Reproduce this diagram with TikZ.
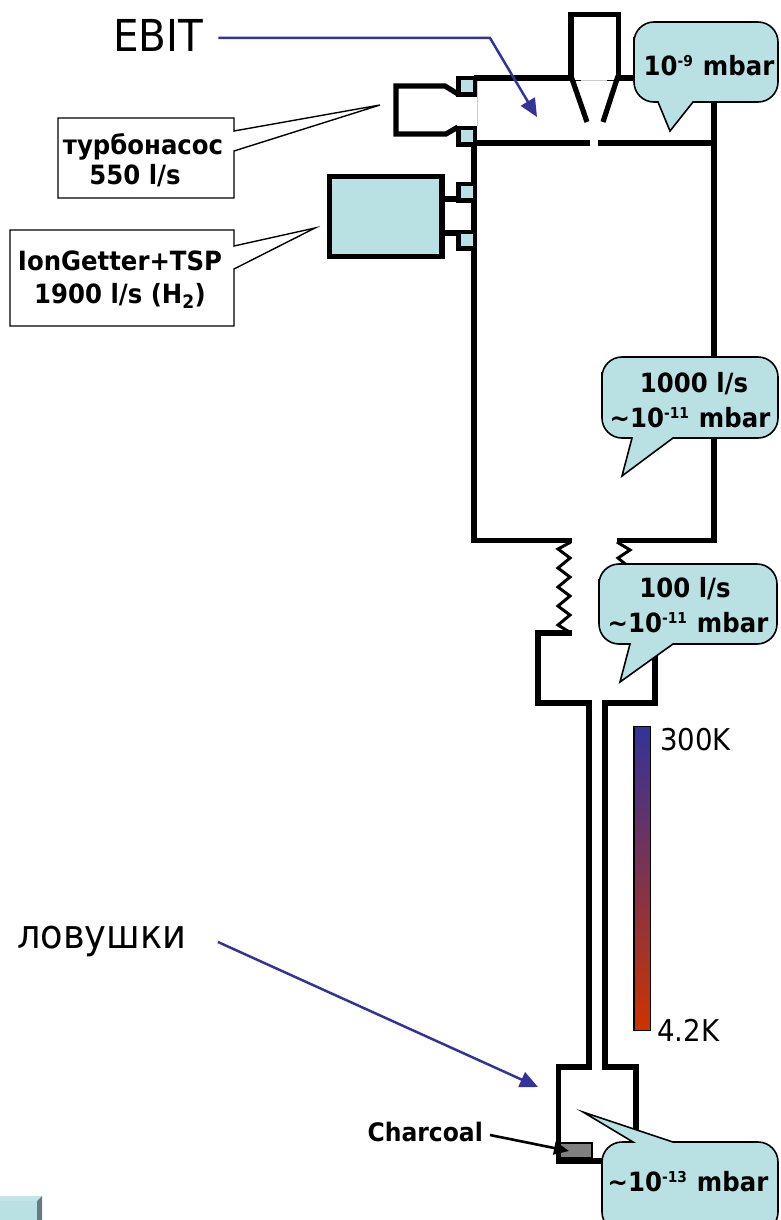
\documentclass[tikz,border=0pt]{standalone}
\usepackage{fontspec}
\setmainfont{DejaVu Sans}[FakeStretch=0.92]
\usepackage{tikz}
\usetikzlibrary{arrows.meta, calc, positioning}
\definecolor{calloutblue}{HTML}{B9E0E3}
\definecolor{arrowblue}{HTML}{333399}
\definecolor{hotred}{HTML}{CC3300}
\tikzset{
    wall/.style={draw=black, line width=5.2pt, line cap=butt, line join=miter},
    flange/.style={draw=black, line width=4.4pt, fill=calloutblue},
    bellow/.style={draw=black, line width=3pt},
    bubble/.style={draw=black, line width=1.6pt, fill=calloutblue},
    notebox/.style={draw=black, line width=1.4pt, fill=white},
    boldtext/.style={font=\fontsize{26.5}{34.5}\selectfont\bfseries, align=center, inner sep=0pt},
    bigtext/.style={font=\fontsize{44}{50}\selectfont, inner sep=0pt},
    traptext/.style={font=\fontsize{40}{46}\selectfont, inner sep=0pt},
    temptext/.style={font=\fontsize{30}{36}\selectfont, inner sep=0pt},
    pointer/.style={draw=arrowblue, line width=2.5pt, -{Triangle[length=18pt,width=16pt]}}
}
\newcommand{\sups}[1]{\textsuperscript{\fontsize{15}{15}\selectfont #1}}
% x1, y top, x2, y bottom, tail start, tip x, tip y, tail end
\newcommand{\bubblepath}[8]{
    \draw [bubble] (#1,#2+35) [rounded corners=20pt] -- (#1,#4) [sharp corners] -- (#5,#4) -- (#6,#7) -- (#8,#4) [rounded corners=20pt] -- (#3,#4) -- (#3,#2) -- (#1,#2) -- cycle;
}
\begin{document}
\begin{tikzpicture}[x=1pt, y=-1pt]
    \useasboundingbox (0,0) rectangle (780,1220);

    % upper chamber
    \draw [wall] (474,78) -- (714,78);
    \draw [wall] (714,76) -- (714,540.5) -- (617,540.5);
    \draw [wall] (474,143) -- (590,143);
    \draw [wall] (598,143) -- (716,143);
    \draw [wall] (474,143) -- (474,540.5) -- (572,540.5);
    \draw [draw=black!20, line width=1pt] (477,81) -- (477,126);
    \draw [fill=white, draw=none] (573,60) rectangle (616,80);
    \draw [draw=black!20, line width=1pt] (581,81) -- (607,81);
    \draw [wall] (571,78) -- (571,14.5) -- (618.5,14.5) -- (618.5,78);
    \draw [wall] (571,76) -- (587,122);
    \draw [wall] (618,76) -- (603,122);

    % turbo pump and ion pump
    \draw [wall] (458,94) -- (445,86) -- (396,86) -- (396,134) -- (446,134) -- (458,127);
    \draw [wall] (442,199) -- (458,199);
    \draw [wall] (442,233) -- (458,233);
    \node (IonPump) [draw=black, line width=5.2pt, fill=calloutblue, minimum width=112.5pt, minimum height=80pt, anchor=north west, inner sep=0pt, outer sep=0pt] at (329.5,176.5) {};
    \foreach \y in {78,128,184,232} {
        \draw [flange] (458.5,\y) rectangle (475,\y+16.5);
    }

    % bellows
    \draw [bellow] (571,542) -- (558,549) -- (570,558) -- (558,568) -- (570,577) -- (558,587) -- (570,596) -- (558,606) -- (570,615) -- (558,625) -- (571,633);
    \draw [bellow] (617,542) -- (630,550) -- (618,558) -- (630,568);

    % lower chamber and cold tube
    \draw [wall] (572,633) -- (538,633) -- (538,703) -- (589,703) -- (589,1067) -- (558.5,1067) -- (558.5,1162);
    \draw [wall] (617,633) -- (655,633) -- (655,703) -- (605,703) -- (605,1067) -- (636,1067) -- (636,1145);
    \draw [draw=black, line width=6.5pt] (556,1161) -- (610,1161);
    \node (Charcoal) [draw=black, line width=1.4pt, fill=black!50, minimum width=32pt, minimum height=15pt, anchor=north west, inner sep=0pt, outer sep=0pt] at (560,1143) {};

    % temperature bar
    \node (Bar) [draw=black, line width=1.6pt, top color=arrowblue, bottom color=hotred, minimum width=16.5pt, minimum height=304pt, anchor=north west, inner sep=0pt, outer sep=0pt] at (634,726.5) {};
    \node (Warm) [temptext, anchor=west] at (660,740) {300K};
    \node (Cold) [temptext, anchor=west] at (657,1030) {4.2K};

    % pressure callouts
    \bubblepath{634}{22}{778}{102}{658}{670}{131}{693}
    \node (PressTop) [boldtext] at (709,66) {10\sups{-9}\hspace{1pt} mbar};

    \bubblepath{602}{357}{778}{438}{632}{622}{476}{673}
    \node (PressMid) [boldtext] at (690,400) {\hspace*{8pt}1000 l/s\\∼10\sups{-11}\hspace{1pt} mbar};

    \bubblepath{599}{564}{777}{644}{630}{620}{682}{673}
    \node (PressLow) [boldtext] at (688,605) {100 l/s\hspace*{6pt}\\∼10\sups{-11}\hspace{1pt} mbar};

    \draw [bubble] (602,1185) [rounded corners=20pt] -- (602,1142) [sharp corners] -- (633,1142) -- (583,1112) -- (673,1142) [rounded corners=20pt] -- (778,1142) -- (778,1232) -- (602,1232) -- cycle;
    \node (PressTrap) [boldtext] at (688,1182) {∼10\sups{-13}\hspace{1pt} mbar};

    % white notes
    \draw [notebox] (58,118) -- (234,118) -- (234,131) -- (380,105) -- (234,151) -- (234,198) -- (58,198) -- cycle;
    \node (Turbo) [boldtext] at (143,160) {турбонасос\\[-4pt]550 l/s\hspace*{16pt}};
    \draw [notebox] (10,230) -- (234,230) -- (234,246) -- (315,228) -- (234,269) -- (234,326) -- (10,326) -- cycle;
    \node (Getter) [boldtext] at (120,280) {IonGetter+TSP\\[-2pt]1900 l/s (H\textsubscript{2})};

    % labels with arrows
    \node (EBIT) [bigtext, anchor=west] at (113,35) {EBIT};
    \coordinate (EBITBend) at (490,38);
    \coordinate (EBITTip) at (537,117);
    \draw [pointer] ($(EBIT.east)+(15,3)$) -- (EBITBend) -- (EBITTip);

    \node (Traps) [traptext, anchor=west] at (17,941) {ловушки};
    \coordinate (TrapsTip) at (538,1087);
    \draw [pointer] (218,942) -- (TrapsTip);

    \node (CharcoalText) [font=\fontsize{25.5}{30}\selectfont\bfseries, inner sep=0pt, anchor=east] at (483,1132) {Charcoal};
    \draw [draw=black, line width=2.6pt, -{Triangle[length=15pt,width=13pt]}] (490,1135) -- (569,1151);

    % corner fragment
    \fill [calloutblue] (0,1196) rectangle (37,1220);
    \fill [calloutblue!85!white] (0,1196) -- (42,1196) -- (37,1201) -- (0,1201) -- cycle;
    \fill [black!45!calloutblue] (37,1201) -- (42,1196) -- (42,1220) -- (37,1220) -- cycle;
\end{tikzpicture}
\end{document}
